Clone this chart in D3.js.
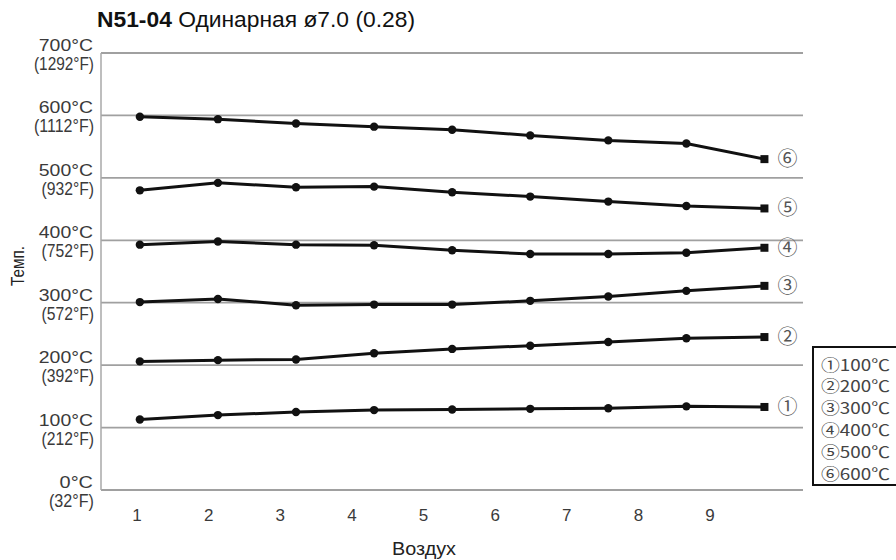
<!DOCTYPE html>
<html><head><meta charset="utf-8">
<script src="https://cdn.jsdelivr.net/npm/d3@7"></script>
<style>body{margin:0;background:#fff}svg{display:block}</style>
</head><body>
<script>
const airflow = [1.04, 2.13, 3.22, 4.31, 5.40, 6.49, 7.58, 8.67, 9.76];
const xTicks = [1,2,3,4,5,6,7,8,9];
const yTicksC = [0,100,200,300,400,500,600,700];
const yTicksF = ["(32°F)","(212°F)","(392°F)","(572°F)","(752°F)","(932°F)","(1112°F)","(1292°F)"];
const seriesMarks = ["①","②","③","④","⑤","⑥"];
const legendItems = ["①100℃","②200℃","③300℃","④400℃","⑤500℃","⑥600℃"];
const s1 = [113, 120, 125, 128, 129, 130, 131, 134, 133];
const s2 = [206, 208, 209, 219, 226, 231, 237, 243, 245];
const s3 = [301, 306, 296, 297, 297, 303, 310, 319, 327];
const s4 = [393, 398, 393, 392, 384, 378, 378, 380, 388];
const s5 = [480, 492, 485, 486, 477, 470, 462, 455, 451];
const s6 = [598, 594, 587, 582, 577, 568, 560, 555, 530];
const series = [s1, s2, s3, s4, s5, s6];

const W = 896, H = 560;
const svg = d3.select("body").append("svg").attr("width", W).attr("height", H);
const font = "'Liberation Sans', Arial, sans-serif";
const cjk = "'Noto Sans CJK KR', 'Noto Sans CJK SC', sans-serif";

const x = d3.scaleLinear().domain([1, 9]).range([137, 710]);
const y = d3.scaleLinear().domain([0, 700]).range([490, 53]);
const plotL = 101, plotR = 803;

// title
const t = svg.append("text").attr("x", 97).attr("y", 27).attr("font-family", font)
  .attr("font-size", 22).attr("fill", "#111")
  .attr("textLength", 318).attr("lengthAdjust", "spacingAndGlyphs");
t.append("tspan").attr("font-weight", "bold").text("N51-04");
t.append("tspan").text(" Одинарная ø7.0 (0.28)");

// gridlines
svg.append("g").selectAll("line").data(yTicksC).join("line")
  .attr("x1", plotL).attr("x2", plotR)
  .attr("y1", d => y(d)).attr("y2", d => y(d))
  .attr("stroke", "#a0a0a0").attr("stroke-width", 1.8);
svg.append("line").attr("x1", plotL).attr("x2", plotL).attr("y1", y(700)).attr("y2", y(0))
  .attr("stroke", "#a8a8a8").attr("stroke-width", 1.5);

// y labels
const yl = svg.append("g").attr("font-family", font).attr("fill", "#3a3a3a").attr("text-anchor", "end");
yl.selectAll("text.c").data(yTicksC).join("text").attr("class", "c")
  .attr("x", 93).attr("y", d => y(d) - 2).attr("font-size", 17)
  .attr("textLength", d => (String(d).length) * 10.4 + 23).attr("lengthAdjust", "spacingAndGlyphs")
  .text(d => d + "°C");
yl.selectAll("text.f").data(yTicksC).join("text").attr("class", "f")
  .attr("x", 94).attr("y", d => y(d) + 17).attr("font-size", 17.5)
  .attr("textLength", (d, i) => yTicksF[i].length * 7.5).attr("lengthAdjust", "spacingAndGlyphs")
  .text((d, i) => yTicksF[i]);

svg.append("text").attr("transform", "translate(24,266) rotate(-90)").attr("text-anchor", "middle")
  .attr("font-family", font).attr("font-size", 18).attr("fill", "#222")
  .attr("textLength", 40).attr("lengthAdjust", "spacingAndGlyphs").text("Темп.");

// x labels
svg.append("g").selectAll("text").data(xTicks).join("text")
  .attr("x", d => x(d)).attr("y", 521).attr("text-anchor", "middle")
  .attr("font-family", font).attr("font-size", 17).attr("fill", "#3a3a3a").text(d => d);
svg.append("text").attr("x", 424).attr("y", 555).attr("text-anchor", "middle")
  .attr("font-family", font).attr("font-size", 18).attr("fill", "#222")
  .attr("textLength", 64).attr("lengthAdjust", "spacingAndGlyphs").text("Воздух");

// lines
const line = d3.line().x((d, i) => x(airflow[i])).y(d => y(d));
const g = svg.append("g");
series.forEach((s, si) => {
  g.append("path").attr("d", line(s)).attr("fill", "none").attr("stroke", "#111").attr("stroke-width", 3);
  g.selectAll(null).data(s.slice(0, -1)).join("circle")
    .attr("cx", (d, i) => x(airflow[i])).attr("cy", d => y(d)).attr("r", 4.2).attr("fill", "#111");
  const last = s[s.length - 1];
  g.append("rect").attr("x", x(airflow[airflow.length - 1]) - 4).attr("y", y(last) - 4)
    .attr("width", 8).attr("height", 8).attr("fill", "#111");
  g.append("text").attr("x", x(airflow[airflow.length - 1]) + 23).attr("y", y(last) + 7)
    .attr("text-anchor", "middle").attr("font-family", cjk)
    .attr("font-size", 20).attr("fill", "#555").text(seriesMarks[si]);
});

// legend
svg.append("rect").attr("x", 813).attr("y", 347).attr("width", 100).attr("height", 138)
  .attr("fill", "#fff").attr("stroke", "#111").attr("stroke-width", 2);
svg.append("g").selectAll("text").data(legendItems).join("text")
  .attr("x", 821).attr("y", (d, i) => 370.5 + i * 21.9)
  .attr("font-family", cjk).attr("font-size", 15.5).attr("fill", "#444")
  .attr("textLength", 69).attr("lengthAdjust", "spacingAndGlyphs")
  .text(d => d);
</script>
</body></html>
